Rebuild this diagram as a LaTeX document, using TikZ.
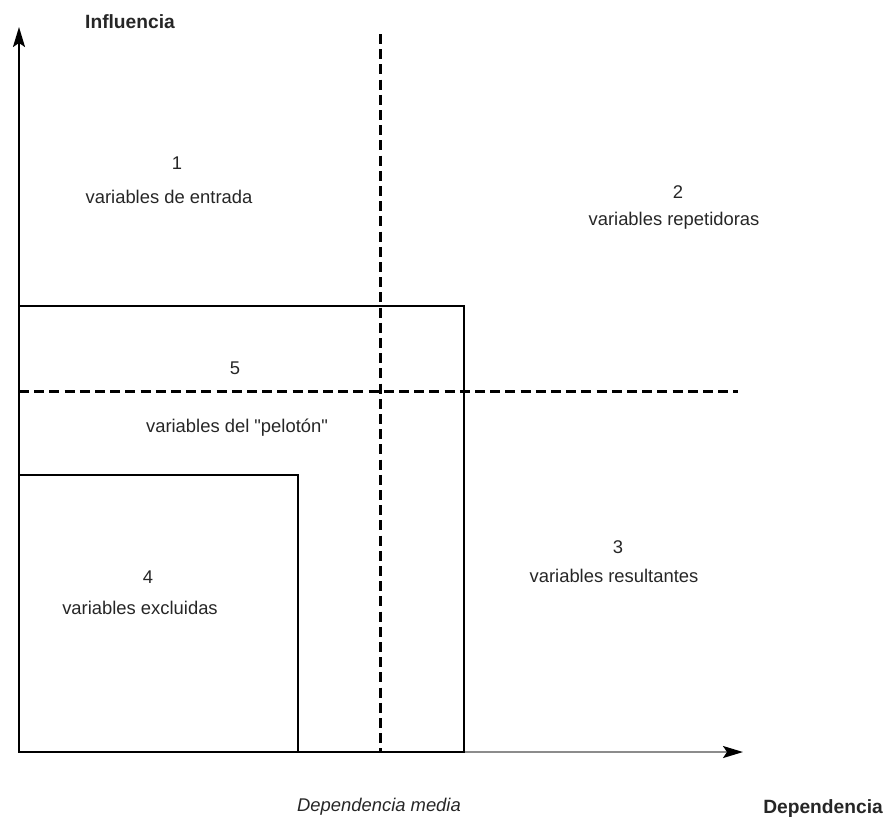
\documentclass[tikz,border=0pt]{standalone}
\usepackage{fontspec}
\setmainfont{Liberation Sans}
\usetikzlibrary{arrows.meta}
\begin{document}
\begin{tikzpicture}[x=0.5pt,y=-0.5pt,>={Stealth[length=10pt,width=6pt,inset=2pt,color=black]}]
  \tikzstyle{lbl}=[font=\fontsize{9.2}{11}\selectfont, text=black!85, inner sep=1pt, align=center]
  \tikzstyle{head}=[font=\fontsize{9.6}{11}\selectfont\bfseries, text=black!85, inner sep=1pt]
  \tikzstyle{axis}=[line width=1pt]
  \tikzstyle{zone}=[line width=0.8pt]
  \tikzstyle{mid}=[line width=1.5pt, dash pattern=on 5pt off 2.6pt]

  \useasboundingbox (0,0) rectangle (886,821);

  % ejes
  \coordinate (o) at (19,752);
  \coordinate (ytip) at (19,27);
  \coordinate (xtip) at (743,752);
  \draw[axis,->] (o) -- (ytip);
  \draw[axis,->,draw=black!45] (o) -- (xtip);

  % zonas
  \draw[zone] (19,306) rectangle (464,752);
  \draw[zone] (19,475) rectangle (298,752);

  % medias
  \coordinate (vtop) at (380,34);
  \coordinate (vbot) at (380,752);
  \coordinate (hl) at (19,391);
  \coordinate (hr) at (738,391);
  \draw[mid] (vtop) -- (vbot);
  \draw[mid] (hl) -- (hr);

  \node[head] (inf) at (130,22) {Influencia};
  \node[head] (dep) at (823,809) {Dependencia};
  \node[lbl, font=\fontsize{9.2}{11}\selectfont\itshape] (depm) at (379,807) {Dependencia media};

  \node[lbl] (n1) at (177,163) {1};
  \node[lbl] (t1) at (169,197) {variables de entrada};
  \node[lbl] (n2) at (678,192) {2};
  \node[lbl] (t2) at (674,221) {variables repetidoras};
  \node[lbl] (n5) at (235,368) {5};
  \node[lbl] (t5) at (237,428) {variables del \textquotedbl pelotón\textquotedbl};
  \node[lbl] (n3) at (618,547) {3};
  \node[lbl] (t3) at (614,576) {variables resultantes};
  \node[lbl] (n4) at (148,577) {4};
  \node[lbl] (t4) at (140,608) {variables excluidas};
\end{tikzpicture}
\end{document}
